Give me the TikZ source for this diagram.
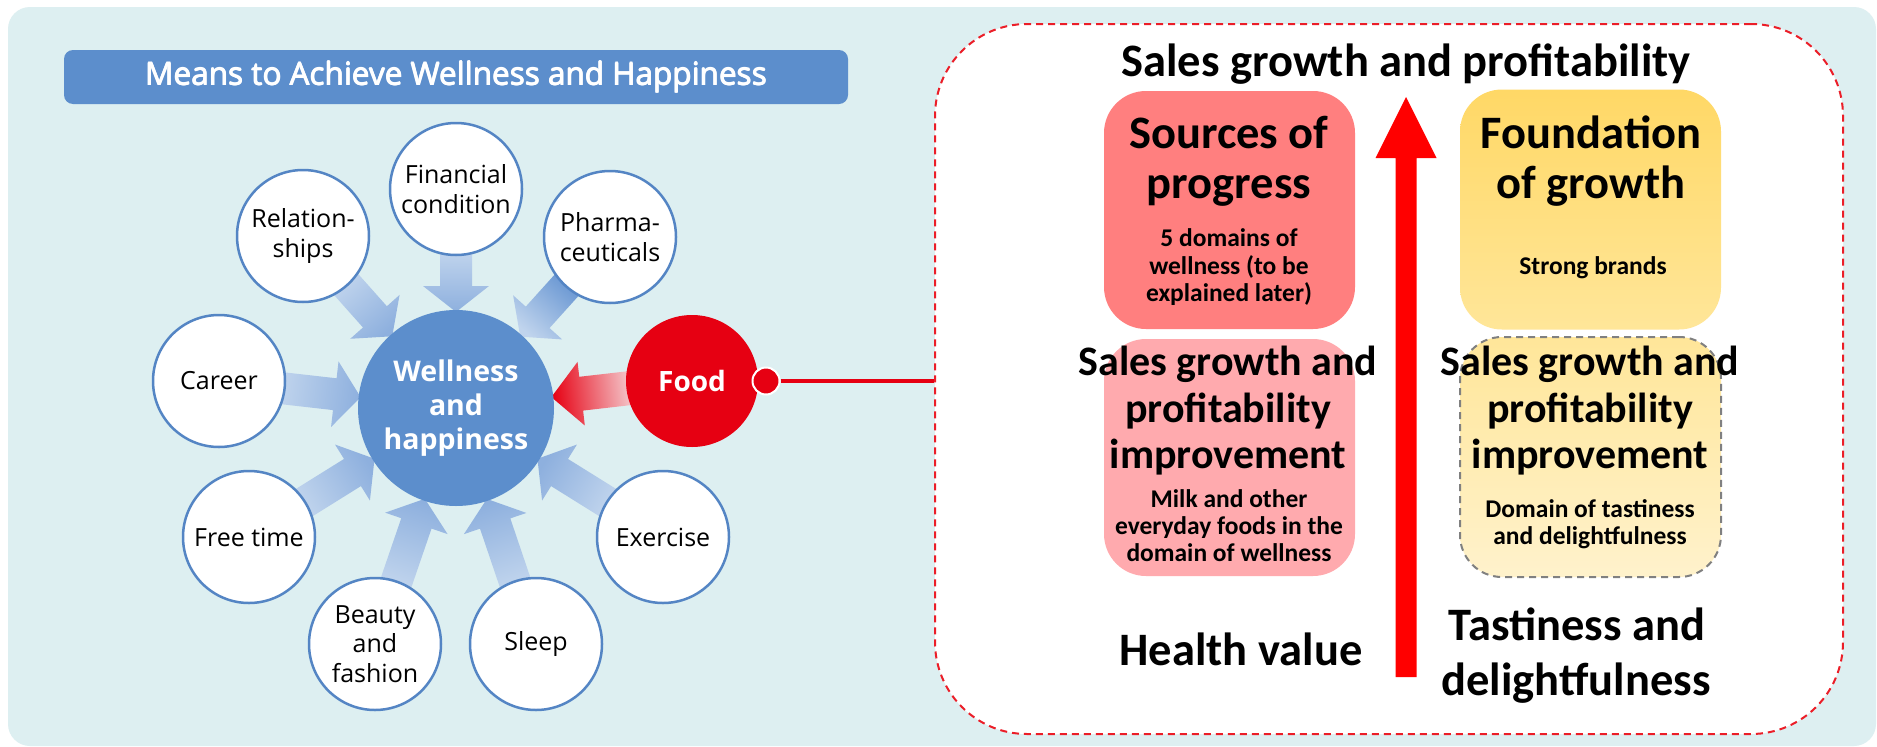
\documentclass[tikz,border=0pt]{standalone}
\usepackage{fontspec}
\setmainfont{Carlito}
\newfontfamily\osans{Open Sans}
\usetikzlibrary{calc}
\definecolor{panelbg}{RGB}{221,239,241}
\definecolor{tblue}{RGB}{92,142,204}
\definecolor{cborder}{RGB}{84,133,196}
\definecolor{foodred}{RGB}{230,0,18}
\definecolor{dashred}{RGB}{235,30,40}
\definecolor{salmon}{RGB}{255,127,127}
\definecolor{pinkbox}{RGB}{255,170,174}
\definecolor{yelA}{RGB}{255,216,102}
\definecolor{yelB}{RGB}{255,230,153}
\definecolor{yelC}{RGB}{255,242,204}
\definecolor{arlight}{RGB}{192,212,237}
\definecolor{armid}{RGB}{142,176,222}
\definecolor{ardark}{RGB}{104,150,210}
\definecolor{pinklight}{RGB}{244,200,204}
\definecolor{arrowred}{RGB}{255,0,0}
\definecolor{grayd}{RGB}{128,128,128}

\newcommand\fBig{\bfseries\fontsize{46.5}{50}\selectfont}
\newcommand\fMid{\bfseries\fontsize{42}{46.5}\selectfont}
\newcommand\fSmall{\bfseries\fontsize{25.5}{27.5}\selectfont}
\newcommand\tline[4]{\node[txt, font=#3] (#1) at (#2) {#4};}

% fat arrow from node #1 to node #2; #3 shading angle, #4 colour at source, #5 colour at head
% #6 source radius, #7 shaft half width, #8 head half width, #9 head length
\newcommand\fatarrow[9]{%
  \path ($(#1)!#6!(#2)$) coordinate (fa-s)
        ($(#2)!96pt!(#1)$) coordinate (fa-t);
  \path ($(fa-t)!#9!(fa-s)$) coordinate (fa-h);
  \shade[top color=#5, bottom color=#4, shading angle=#3]
    ($(fa-s)!#7!90:(fa-t)$) -- ($(fa-h)!#7!90:(fa-t)$) -- ($(fa-h)!#8!90:(fa-t)$)
    -- (fa-t) -- ($(fa-h)!#8!-90:(fa-t)$) -- ($(fa-h)!#7!-90:(fa-t)$)
    -- ($(fa-s)!#7!-90:(fa-t)$) -- cycle;}

\tikzset{
  means/.style={circle, draw=cborder, line width=2.5pt, fill=white, minimum size=132pt,
    inner sep=0pt, align=center, font=\osans\fontsize{25}{29.5}\selectfont},
  box/.style={rounded corners=42pt, inner sep=0pt},
  txt/.style={anchor=base, inner sep=0pt},
  titletxt/.style={inner sep=0pt, text=white, font=\osans\fontsize{31.5}{34}\selectfont},
}

\begin{document}
\begin{tikzpicture}[x=1pt, y=-1pt]
\useasboundingbox (0,0) rectangle (1877,747);
\fill[white] (0,0) rectangle (1877,747);
\fill[panelbg, rounded corners=22pt] (8,7) rectangle (1876,746);

% ---- left part ----
\node[fill=tblue, rounded corners=9pt, minimum width=784pt, minimum height=54pt, inner sep=0pt] (title) at (456,77) {};
\node[titletxt] (title-a) at ($(title)+(-0.5,0)$) {Means to Achieve Wellness and Happiness};
\node[titletxt] (title-b) at ($(title)+(0.5,0)$) {Means to Achieve Wellness and Happiness};
\node[titletxt] (title-c) at ($(title)+(0,-0.35)$) {Means to Achieve Wellness and Happiness};
\node[titletxt] (title-d) at ($(title)+(0,0.35)$) {Means to Achieve Wellness and Happiness};

\coordinate (wc) at (456,408);
\path (456,189) coordinate (c-fin) (303,236) coordinate (c-rel) (610,237) coordinate (c-pha)
      (219,381) coordinate (c-car) (692,381) coordinate (c-food) (249,537) coordinate (c-free)
      (663,537) coordinate (c-exe) (375,644) coordinate (c-bea) (536,644) coordinate (c-sle);

\fatarrow{c-fin}{wc}{-180}{arlight}{armid}{62pt}{16pt}{33pt}{26pt}
\fatarrow{c-rel}{wc}{-138.3}{arlight}{armid}{62pt}{16pt}{33pt}{26pt}
\fatarrow{c-pha}{wc}{138}{ardark}{arlight}{62pt}{16pt}{33pt}{26pt}
\fatarrow{c-car}{wc}{-96.5}{arlight}{armid}{62pt}{16pt}{33pt}{26pt}
\fatarrow{c-free}{wc}{-58.1}{arlight}{armid}{62pt}{16pt}{33pt}{26pt}
\fatarrow{c-exe}{wc}{58.1}{arlight}{armid}{62pt}{16pt}{33pt}{26pt}
\fatarrow{c-bea}{wc}{-18.9}{arlight}{armid}{62pt}{16pt}{33pt}{26pt}
\fatarrow{c-sle}{wc}{18.7}{arlight}{armid}{62pt}{16pt}{33pt}{26pt}
\fatarrow{c-food}{wc}{96.5}{pinklight}{foodred}{62pt}{17pt}{32pt}{30pt}

\node[circle, fill=tblue, minimum size=196pt, inner sep=0pt, align=center, text=white,
  font=\osans\bfseries\fontsize{28.5}{34}\selectfont] (wellness) at (wc)
  {Wellness\\and\\happiness};

\node[means] (fin) at (c-fin) {Financial\\condition};
\node[means] (rel) at (c-rel) {Relation-\\ships};
\node[means] (pha) at (c-pha) {Pharma-\\ceuticals};
\node[means] (car) at (c-car) {Career};
\node[means] (free) at (c-free) {Free time};
\node[means] (exe) at (c-exe) {Exercise};
\node[means] (bea) at (c-bea) {Beauty\\and\\fashion};
\node[means] (sle) at (c-sle) {Sleep};
\node[circle, fill=foodred, minimum size=132pt, inner sep=0pt, text=white,
  font=\osans\bfseries\fontsize{28}{32}\selectfont] (food) at (c-food) {Food};

% ---- right panel ----
\node[draw=dashred, dash pattern=on 7pt off 5pt, line width=2pt, fill=white, rounded corners=92pt,
  minimum width=908pt, minimum height=710pt, inner sep=0pt] (panel) at (1389,379) {};

\node[circle, fill=foodred, draw=white, line width=2pt, minimum size=27pt, inner sep=0pt] (dot) at (766,381) {};
\draw[foodred, line width=4pt] (dot.east) -- (dot -| panel.west);

\node[box, fill=salmon, minimum width=251pt, minimum height=238pt] (srcbox) at (1229.5,210) {};
\node[box, top color=yelA, bottom color=yelB, minimum width=261pt, minimum height=240pt] (fndbox) at (1590.5,209.5) {};
\node[box, fill=pinkbox, minimum width=251pt, minimum height=237pt] (impL) at (1229.5,457.5) {};
\node[box, top color=yelB, bottom color=yelC, draw=grayd, dash pattern=on 7pt off 5pt, line width=2pt,
  minimum width=261pt, minimum height=240pt] (impR) at (1590.5,457) {};

% vertical red arrow
\coordinate (ab) at (1406,677);
\coordinate (at) at (1406,97);
\fill[arrowred] ($(ab)+(-10.5,0)$) -- ($(at)+(-10.5,61)$) -- ($(at)+(-30.5,61)$) -- (at)
  -- ($(at)+(30.5,61)$) -- ($(at)+(10.5,61)$) -- ($(ab)+(10.5,0)$) -- cycle;

\tline{t-top}{1406,76}{\fBig}{Sales growth and profitability}
\tline{t-s1}{1229,148}{\fBig}{Sources of}
\tline{t-s2}{1229,198}{\fBig}{progress}
\tline{t-s3}{1229,246}{\fSmall}{5 domains of}
\tline{t-s4}{1229,274}{\fSmall}{wellness (to be}
\tline{t-s5}{1229,301}{\fSmall}{explained later)}
\tline{t-f1}{1591,148}{\fBig}{Foundation}
\tline{t-f2}{1591,198}{\fBig}{of growth}
\tline{t-f3}{1593,274}{\fSmall}{Strong brands}
\tline{t-l1}{1228,375}{\fMid}{Sales growth and}
\tline{t-l2}{1228,422}{\fMid}{profitability}
\tline{t-l3}{1228,468}{\fMid}{improvement}
\tline{t-l4}{1229,507}{\fSmall}{Milk and other}
\tline{t-l5}{1229,534}{\fSmall}{everyday foods in the}
\tline{t-l6}{1229,561}{\fSmall}{domain of wellness}
\tline{t-r1}{1590,375}{\fMid}{Sales growth and}
\tline{t-r2}{1590,422}{\fMid}{profitability}
\tline{t-r3}{1590,468}{\fMid}{improvement}
\tline{t-r4}{1590,517}{\fSmall}{Domain of tastiness}
\tline{t-r5}{1590,544}{\fSmall}{and delightfulness}
\tline{t-hv}{1241,665}{\fBig}{Health value}
\tline{t-ta}{1577,640}{\fBig}{Tastiness and}
\tline{t-de}{1576,695}{\fBig}{delightfulness}
\end{tikzpicture}
\end{document}
